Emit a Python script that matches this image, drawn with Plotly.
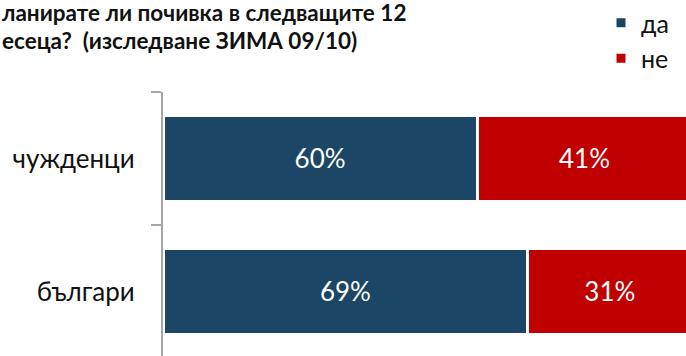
import plotly.graph_objects as go

# Survey: planned holidays in the next 12 months (winter 2009/10)
categories = ["чужденци", "българи"]
yes_values = [60, 69]
no_values = [41, 31]
series_names = ["да", "не"]
title_lines = ["ланирате ли почивка в следващите 12", "есеца?  (изследване ЗИМА 09/10)"]

BLUE = "#1B4665"
RED = "#C00000"
FONT = "Lato"

W, H = 686, 356
M_L, M_T = 163, 90
plot_w = W - M_L
plot_h = H - M_T

fig = go.Figure()
for name, vals, col in [(series_names[0], yes_values, BLUE), (series_names[1], no_values, RED)]:
    fig.add_trace(go.Bar(
        name=name,
        y=categories,
        x=vals,
        orientation="h",
        marker=dict(color=col, line=dict(color="white", width=3)),
        width=0.65,
        text=[f"{v}%" for v in vals],
        textposition="inside",
        insidetextanchor="middle",
        textangle=0,
        textfont=dict(family=FONT, size=26, color="white"),
        hoverinfo="skip",
    ))

# Two-line title, each line placed on its own (pixel offsets above the plot area)
for line, top_px in zip(title_lines, [-5, 24]):
    fig.add_annotation(
        text=line,
        xref="paper", yref="paper",
        x=(1 - M_L) / plot_w, y=1 + (M_T - top_px) / plot_h,
        xanchor="left", yanchor="top", align="left",
        showarrow=False, borderpad=0,
        font=dict(family=FONT, size=22.5, color="#111111", weight="bold"),
    )

fig.update_layout(
    width=W, height=H,
    margin=dict(l=M_L, r=0, t=M_T, b=0, pad=0),
    paper_bgcolor="white", plot_bgcolor="white",
    barmode="stack", barnorm="percent",
    showlegend=True,
    legend=dict(
        x=(601 - M_L) / plot_w, y=1 + (M_T + 3) / plot_h,
        xanchor="left", yanchor="top",
        font=dict(family=FONT, size=25, color="#111111"),
        bgcolor="rgba(0,0,0,0)", traceorder="normal",
        itemwidth=30,
    ),
    xaxis=dict(range=[0, 98.9], visible=False, showgrid=False, zeroline=False),
    yaxis=dict(
        type="category",
        categoryorder="array", categoryarray=list(reversed(categories)),
        range=[-0.485, 1.5],
        showline=True, linecolor="#a6a6a6", linewidth=2,
        ticks="outside", ticklen=10, tickwidth=2, tickcolor="#a6a6a6",
        tickson="boundaries",
        ticklabelstandoff=21,
        tickfont=dict(family=FONT, size=26, color="#111111"),
        showgrid=False, zeroline=False,
    ),
    font=dict(family=FONT),
)

fig.write_html("out.html")
